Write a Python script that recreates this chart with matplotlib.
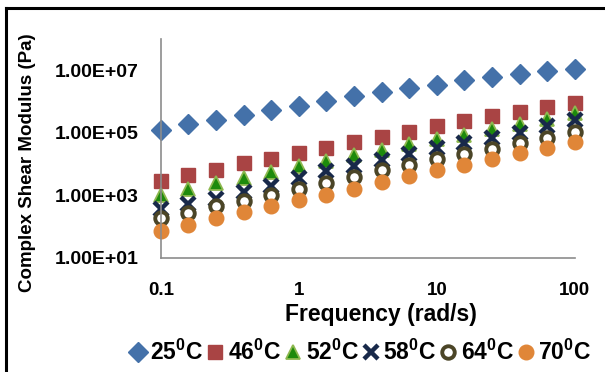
import matplotlib.pyplot as plt
from matplotlib.lines import Line2D

plt.rcParams["font.family"] = ["Liberation Sans", "DejaVu Sans"]
plt.rcParams["font.weight"] = "bold"
plt.rcParams["mathtext.fontset"] = "custom"
plt.rcParams["mathtext.rm"] = "Liberation Sans:bold"
plt.rcParams["mathtext.bf"] = "Liberation Sans:bold"
plt.rcParams["mathtext.it"] = "Liberation Sans:bold"

freq = [0.1, 0.158, 0.251, 0.398, 0.631, 1, 1.58, 2.51, 3.98, 6.31,
        10, 15.8, 25.1, 39.8, 63.1, 100]

g_25 = [1.21e5, 1.88e5, 2.64e5, 3.8e5, 5.46e5, 7.46e5, 1.07e6, 1.51e6,
        1.98e6, 2.76e6, 3.36e6, 4.83e6, 6.14e6, 7.87e6, 9.5e6, 1.08e7]
g_46 = [2970, 4590, 6600, 10500, 14400, 23400, 32000, 52100,
        75000, 1.08e5, 1.67e5, 2.33e5, 3.35e5, 4.62e5, 6.64e5, 9.27e5]
g_52 = [1000, 1630, 2460, 3540, 5720, 8850, 12700, 19200,
        28300, 45000, 64000, 88700, 1.34e5, 1.97e5, 2.78e5, 4.3e5]
g_58 = [379, 546, 785, 1280, 2070, 3490, 6150, 8850,
        13400, 20700, 33700, 48500, 69700, 1.0e5, 1.71e5, 2.64e5]
g_64 = [183, 284, 449, 646, 1000, 1590, 2510, 3970,
        6470, 9310, 14700, 20700, 31300, 48500, 69700, 1.08e5]
g_70 = [73, 113, 183, 298, 449, 731, 1000, 1630,
        2650, 4090, 6560, 9310, 14400, 23400, 33700, 52100]

labels = ["25$^{0}$C", "46$^{0}$C", "52$^{0}$C", "58$^{0}$C", "64$^{0}$C", "70$^{0}$C"]
y_ticks = [1e1, 1e3, 1e5, 1e7]
y_tick_labels = ["1.00E+01", "1.00E+03", "1.00E+05", "1.00E+07"]
x_ticks = [0.1, 1, 10, 100]
x_tick_labels = ["0.1", "1", "10", "100"]

fig = plt.figure(figsize=(6.05, 3.72), dpi=100)
ax = fig.add_axes([0.266, 0.3065, 0.684, 0.5885])

style = dict(linestyle="none", clip_on=False)
ax.plot(freq, g_25, "D", ms=10.5, color="#4471A9", mec="#4471A9", label=labels[0], **style)
ax.plot(freq, g_46, "s", ms=10, color="#A94444", mec="#A94444", label=labels[1], **style)
ax.plot(freq, g_52, "^", ms=10.5, color="#1D8A0C", mec="#8DB84F", mew=1.3, label=labels[2], **style)
ax.plot(freq, g_58, "x", ms=9.5, mew=3.2, color="#18294A", label=labels[3], **style)
ax.plot(freq, g_64, "o", ms=9, mfc="white", mec="#4B4527", mew=2.8, label=labels[4], **style)
ax.plot(freq, g_70, "o", ms=10.5, color="#E08638", mec="#E08638", label=labels[5], **style)

ax.set_xscale("log")
ax.set_yscale("log")
ax.set_xlim(0.1, 100)
ax.set_ylim(10, 1e8)
ax.set_xticks(x_ticks)
ax.set_xticklabels(x_tick_labels, fontsize=13.5, fontweight="bold")
ax.set_yticks(y_ticks)
ax.set_yticklabels(y_tick_labels, fontsize=14, fontweight="bold")
ax.minorticks_off()
ax.tick_params(axis="y", length=0, pad=16)
ax.tick_params(axis="x", length=0, pad=17)

for side in ["top", "right"]:
    ax.spines[side].set_visible(False)
for side in ["left", "bottom"]:
    ax.spines[side].set_color("#8C8C8C")
    ax.spines[side].set_linewidth(1.2)

ax.set_xlabel("Frequency (rad/s)", fontsize=16.5, fontweight="bold", va="center")
ax.xaxis.set_label_coords(0.531, -0.26)
fig.text(0.045, 0.562, "Complex Shear Modulus (Pa)", rotation=90,
         fontsize=13.5, fontweight="bold", ha="center", va="center")

fig.legend(loc="center", bbox_to_anchor=(0.595, 0.053), ncol=6, frameon=False,
           handlelength=0.8, handletextpad=0.15, columnspacing=0.12,
           borderpad=0.1, prop={"weight": "bold", "size": 16.5})

fig.add_artist(Line2D([6 / 605, 1], [1 - 8 / 372, 1 - 8 / 372],
                      transform=fig.transFigure, color="black", linewidth=2.2))
fig.add_artist(Line2D([6 / 605, 6 / 605], [0, 1 - 8 / 372],
                      transform=fig.transFigure, color="black", linewidth=2.2))

fig.savefig("out.png", dpi=100)
